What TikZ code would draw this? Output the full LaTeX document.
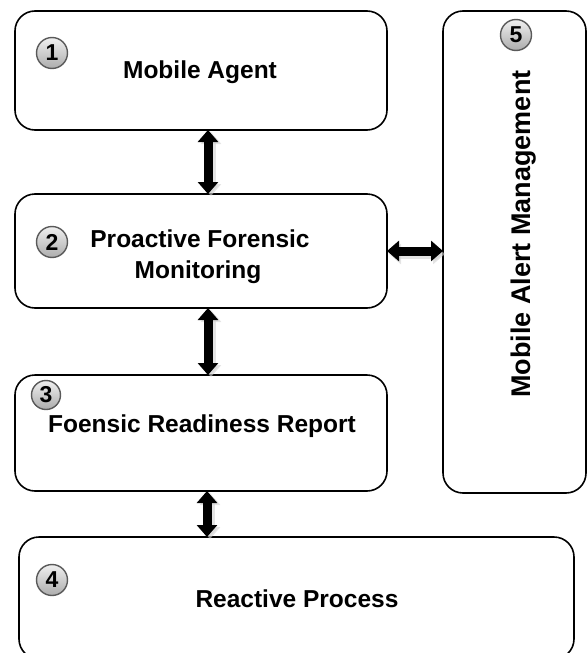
\documentclass[tikz,border=0pt]{standalone}
\usepackage{fontspec}
\setmainfont{Liberation Sans}
\usetikzlibrary{arrows.meta}
\begin{document}
\begin{tikzpicture}[x=1pt,y=-1pt,
  stage/.style={draw=black, line width=1.6pt, rounded corners=20pt, fill=white,
    inner sep=0pt, outer sep=0pt},
  caption/.style={font=\bfseries\fontsize{24.5}{31}\selectfont, inner sep=0pt, anchor=base},
  sidecaption/.style={font=\bfseries\fontsize{27}{31}\selectfont, inner sep=0pt, anchor=base, rotate=90},
  badge/.style={circle, draw=black!65, line width=1.4pt, minimum size=31pt, inner sep=0pt,
    top color=gray!12, bottom color=gray!65, font=\bfseries\fontsize{23}{23}\selectfont},
  link/.style={line width=9pt, {Triangle[width=20pt,length=12pt]}-{Triangle[width=20pt,length=12pt]}},
  linkshadow/.style={link, draw=gray!35, fill=gray!35, opacity=0.6}
]
\useasboundingbox (0,0) rectangle (587,653);

% stage boxes
\node[stage, minimum width=372pt, minimum height=119pt] (b1) at (201,70.5) {};
\node[stage, minimum width=372pt, minimum height=114pt] (b2) at (201,251) {};
\node[stage, minimum width=372pt, minimum height=116pt] (b3) at (201,433) {};
\node[stage, minimum width=555pt, minimum height=122pt] (b4) at (296.5,598) {};
\node[stage, minimum width=143pt, minimum height=482pt] (b5) at (514.5,252) {};

% box titles
\node[caption] (t1) at (200,78) {Mobile Agent};
\node[caption] (t2a) at (200,247) {Proactive Forensic};
\node[caption] (t2b) at (198,278) {Monitoring};
\node[caption] (t3) at (202,432) {Foensic Readiness Report};
\node[caption] (t4) at (297,607) {Reactive Process};
\node[sidecaption] (t5) at (530,234) {Mobile Alert Management};

% numbered badges
\node[badge] (n1) at (52,53) {1};
\node[badge] (n2) at (52,242) {2};
\node[badge, minimum size=29pt] (n3) at (46,395) {3};
\node[badge] (n4) at (52,580) {4};
\node[badge] (n5) at (516,35) {5};

% connector end points
\coordinate (a1) at ([xshift=7pt]b1.south);
\coordinate (a2) at ([xshift=7pt]b2.south);
\coordinate (a3) at ([xshift=6pt]b3.south);

% connector shadows
\draw[linkshadow] ([xshift=3pt,yshift=-2pt]a1) -- ([xshift=3pt,yshift=-2pt]a1 |- b2.north);
\draw[linkshadow] ([xshift=3pt,yshift=-2pt]a2) -- ([xshift=3pt,yshift=-2pt]a2 |- b3.north);
\draw[linkshadow] ([xshift=3pt,yshift=-2pt]a3) -- ([xshift=3pt,yshift=-2pt]a3 |- b4.north);
\draw[linkshadow] ([xshift=2pt,yshift=-3pt]b2.east) -- ([xshift=2pt,yshift=-3pt]b2.east -| b5.west);

% two-way connectors
\draw[link] (a1) -- (a1 |- b2.north);
\draw[link] (a2) -- (a2 |- b3.north);
\draw[link] (a3) -- (a3 |- b4.north);
\draw[link] (b2.east) -- (b2.east -| b5.west);
\end{tikzpicture}
\end{document}
